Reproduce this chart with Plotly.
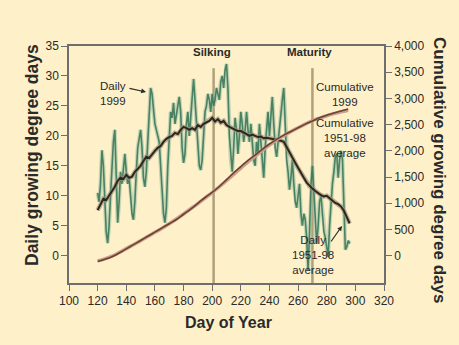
import plotly.graph_objects as go

# ---- Data ----
days_1999 = list(range(120, 297))
daily_1999 = [10.5, 9, 12, 17.6, 15, 8, 4, 2.1, 5, 10,
              16, 19, 21, 12, 5.5, 9, 14, 12, 15, 17,
              14, 12, 13, 10, 7, 6, 9, 14, 18, 19.5,
              21, 18, 13, 11.5, 14, 19, 24, 28, 27, 24,
              22, 21, 20, 19, 15, 10, 7, 5.5, 8, 15,
              21, 24, 23, 25.5, 22, 24, 25, 26.5, 24, 18,
              15.5, 17, 22, 24, 20, 23, 27, 29.5, 26, 22,
              18, 15, 14.3, 16, 20, 24, 25, 27, 26, 24,
              27, 25, 26, 28, 27, 26, 29, 30, 28, 31,
              32, 28, 20, 16, 14, 18, 23, 21, 17, 20,
              24, 22, 19, 21, 24, 21, 19, 22, 18, 16,
              15, 19, 17, 22, 19, 15, 13, 18, 22, 24,
              20, 23, 26.5, 22, 18, 16.5, 19, 22, 24, 26,
              28, 22, 16, 14, 11, 13, 16, 12, 9, 8,
              10, 12, 7, 5, 7, 6, 3, -2.4, 4, 12,
              15, 10, 6, 2, 5, 9, 10, 7, 4, 3,
              1, -0.2, 5, 9, 12, 14, 16.5, 17, 13, 16,
              17.5, 16, 8, 1, 1.5, 2.5, 2]

days_avg = list(range(120, 297, 2))
daily_avg = [7.6, 8.5, 9.5, 9.3, 10, 10.8, 11.5, 12.5, 13, 12.8,
             13.5, 13, 13.2, 14, 14.5, 15, 15.8, 16.5, 16.3, 17,
             17.5, 18, 18.3, 19, 19.5, 19.8, 20, 20.5, 20.3, 21,
             21.5, 21.3, 21, 21.3, 21, 21.8, 21.5, 22, 22.3, 22.5,
             23, 22.4, 22.8, 22.2, 22.5, 21.8, 21.5, 21.3, 21.0, 20.8,
             20.8, 20.6, 20.3, 20.0, 20.2, 20.0, 19.8, 19.9, 19.6, 19.7,
             19.6, 19.5, 19.5, 19.3, 19.2, 19.0, 18.2, 17.3, 16.4, 15.5,
             14.6, 13.8, 13.0, 12.2, 11.6, 11.2, 10.8, 10.4, 10.1, 9.9,
             10.0, 9.6, 9.2, 8.8, 8.6, 8.2, 7.5, 6.5, 5.4]

days_cum = list(range(120, 300, 5))
cum_1999 = [-110, -70, -20, 50, 130, 210, 290, 370, 450, 530,
            610, 690, 790, 890, 1000, 1110, 1210, 1320, 1450, 1580,
            1700, 1820, 1920, 2030, 2130, 2220, 2300, 2370, 2440, 2510,
            2570, 2630, 2680, 2720, 2760, 2800]
cum_avg = [-100, -60, -10, 60, 135, 210, 285, 365, 445, 525,
           610, 700, 795, 895, 995, 1100, 1205, 1315, 1430, 1550,
           1670, 1790, 1900, 2010, 2110, 2210, 2290, 2370, 2440, 2510,
           2575, 2625, 2670, 2710, 2745, 2775]

silking_day = 201
maturity_day = 270

x_ticks = list(range(100, 321, 20))
y_left_ticks = [0, 5, 10, 15, 20, 25, 30, 35]
y_right_ticks = [0, 500, 1000, 1500, 2000, 2500, 3000, 3500, 4000]
y_right_labels = ["0", "500", "1,000", "1,500", "2,000", "2,500", "3,000", "3,500", "4,000"]

BG = "#fef0c8"
FONT = "Liberation Sans, Arial, sans-serif"
TXT = "#2a2a2a"
W, H = 459, 345
L, R, T, B = 69, 75, 46, 62
PW, PH = W - L - R, H - T - B


def px_x(px):
    return (px - L) / PW


def px_y(py):
    return (H - B - py) / PH


fig = go.Figure()

# stage lines
for d in (silking_day, maturity_day):
    fig.add_trace(go.Scatter(x=[d, d], y=[-4.6, 31.3], mode="lines",
                             line=dict(color="rgba(150,135,100,0.75)", width=2.5),
                             hoverinfo="skip", showlegend=False))

# cumulative (right axis)
fig.add_trace(go.Scatter(x=days_cum, y=cum_avg, yaxis="y2", mode="lines",
                         line=dict(color="#c9a08e", width=3.5, shape="spline"),
                         showlegend=False))
fig.add_trace(go.Scatter(x=days_cum, y=cum_1999, yaxis="y2", mode="lines",
                         line=dict(color="#6e4030", width=1.6, shape="spline"),
                         showlegend=False))

# daily 1999
fig.add_trace(go.Scatter(x=days_1999, y=daily_1999, mode="lines",
                         line=dict(color="rgba(150,190,160,0.55)", width=4),
                         showlegend=False, hoverinfo="skip"))
fig.add_trace(go.Scatter(x=days_1999, y=daily_1999, mode="lines",
                         line=dict(color="rgba(50,115,85,0.85)", width=1.6),
                         showlegend=False))

# daily average
fig.add_trace(go.Scatter(x=days_avg, y=daily_avg, mode="lines",
                         line=dict(color="rgba(160,145,120,0.7)", width=4.5),
                         showlegend=False, hoverinfo="skip"))
fig.add_trace(go.Scatter(x=days_avg, y=daily_avg, mode="lines",
                         line=dict(color="#2b2620", width=2),
                         showlegend=False))

labels = [
    (212, 52, "<b>Silking</b>"),
    (309, 52, "<b>Maturity</b>"),
    (113, 93, "Daily<br>1999"),
    (345, 94, "Cumulative<br>1999"),
    (345, 138, "Cumulative<br>1951-98<br>average"),
    (313, 255, "Daily<br>1951-98<br>average"),
]
ann_out = []
for px, py, t in labels:
    ann_out.append(dict(x=px_x(px), y=px_y(py), xref="paper", yref="paper",
                        text=t, showarrow=False, xanchor="center", yanchor="middle",
                        font=dict(family=FONT, size=11.5, color=TXT), align="center"))

# arrows (head position, tail offset in pixels)
ann_out.append(dict(x=px_x(146), y=px_y(92), ax=-18, ay=-4,
                    xref="paper", yref="paper", axref="pixel", ayref="pixel",
                    text="", showarrow=True, arrowhead=2, arrowsize=0.8, arrowwidth=1.2,
                    arrowcolor=TXT))
ann_out.append(dict(x=px_x(342), y=px_y(226), ax=-12, ay=17,
                    xref="paper", yref="paper", axref="pixel", ayref="pixel",
                    text="", showarrow=True, arrowhead=2, arrowsize=0.8, arrowwidth=1.2,
                    arrowcolor=TXT))

# axis titles
ann_out.append(dict(x=px_x(32), y=px_y(155), xref="paper", yref="paper",
                    xanchor="center", yanchor="middle",
                    text="<b>Daily growing degree days</b>", showarrow=False, textangle=-90,
                    font=dict(family=FONT, size=17.5, color=TXT)))
ann_out.append(dict(x=px_x(440), y=px_y(170), xref="paper", yref="paper",
                    xanchor="center", yanchor="middle",
                    text="<b>Cumulative growing degree days</b>", showarrow=False, textangle=90,
                    font=dict(family=FONT, size=17, color=TXT)))
ann_out.append(dict(x=px_x(228), y=px_y(322), xref="paper", yref="paper",
                    xanchor="center", yanchor="middle",
                    text="<b>Day of Year</b>", showarrow=False,
                    font=dict(family=FONT, size=16, color=TXT)))

AXC = "#6e6e6e"
fig.update_layout(
    width=W, height=H,
    margin=dict(l=L, r=R, t=T, b=B, autoexpand=False),
    paper_bgcolor=BG, plot_bgcolor=BG,
    showlegend=False,
    annotations=ann_out,
    xaxis=dict(range=[100, 320], tickvals=x_ticks, showgrid=False, zeroline=False,
               showline=True, linecolor=AXC, linewidth=1.5, mirror=True,
               ticks="outside", ticklen=6, tickcolor=AXC, tickwidth=1,
               tickfont=dict(family=FONT, size=12, color=TXT)),
    yaxis=dict(range=[-4.56, 35], tickvals=y_left_ticks, showgrid=False, zeroline=False,
               showline=True, linecolor=AXC, linewidth=1.5,
               ticks="outside", ticklen=6, tickcolor=AXC, tickwidth=1,
               tickfont=dict(family=FONT, size=12, color=TXT)),
    yaxis2=dict(range=[-521, 4000], tickvals=y_right_ticks, ticktext=y_right_labels,
                overlaying="y", side="right", showgrid=False, zeroline=False,
                showline=True, linecolor=AXC, linewidth=1.5,
                ticks="outside", ticklen=6, tickcolor=AXC, tickwidth=1,
                tickfont=dict(family=FONT, size=12, color=TXT)),
)

fig.write_html("out.html", config={"displayModeBar": False},
               post_script="document.body.style.margin='0';"
                           "document.body.style.background='#fef0c8';")
